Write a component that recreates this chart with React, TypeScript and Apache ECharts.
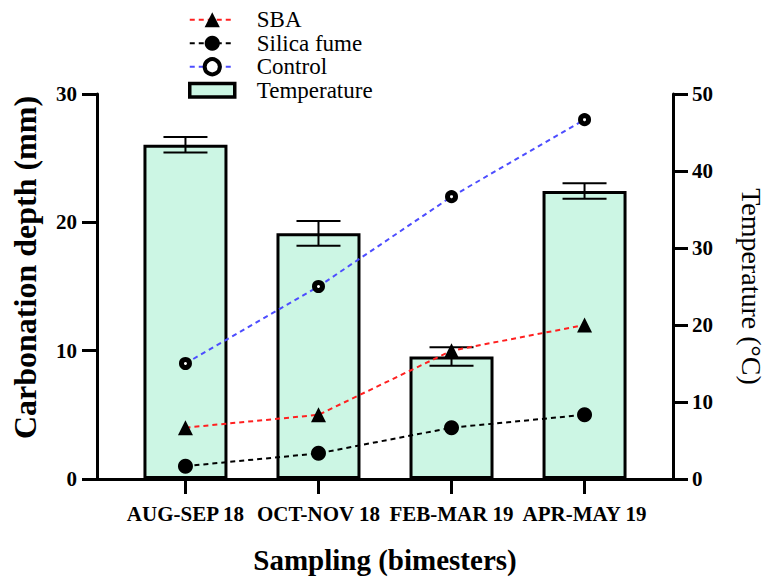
import React, { useEffect, useRef } from "react";
import * as echarts from "echarts";

const categories = ["AUG-SEP 18", "OCT-NOV 18", "FEB-MAR 19", "APR-MAY 19"];
const sba = [4, 5, 10, 12];
const silicaFume = [1, 2, 4, 5];
const control = [9, 15, 22, 28];
const temperature = [43.4, 31.9, 15.9, 37.4];
const temperatureErr = [1.0, 1.6, 1.2, 1.0];
const leftTicks = [0, 10, 20, 30];
const rightTicks = [0, 10, 20, 30, 40, 50];

const FONT = "Liberation Serif";

export default function App() {
  const ref = useRef<HTMLDivElement>(null);
  useEffect(() => {
    if (!ref.current) return;
    const chart = echarts.init(ref.current, undefined, { renderer: "svg" });
    const idx = categories.map((_, i) => i);
    const axisLine = { show: true, onZero: false, lineStyle: { color: "#000", width: 3 } };
    const axisTick = { show: true, length: 15, lineStyle: { color: "#000", width: 3 } };
    chart.setOption({
      animation: false,
      textStyle: { fontFamily: FONT },
      legend: {
        orient: "vertical",
        left: 183,
        top: 3,
        itemWidth: 45,
        itemHeight: 19,
        itemGap: 0,
        textStyle: { fontFamily: FONT, fontWeight: "normal", fontSize: 23, lineHeight: 23.5, color: "#000", padding: [0, 0, 0, 17] },
        data: [
          { name: "SBA" },
          { name: "Silica fume" },
          { name: "Control", itemStyle: { color: "#fff", borderColor: "#000", borderWidth: 4 } },
          {
            name: "Temperature",
            icon: "path://M0,0H40V12H0Z",
            itemStyle: { color: "#ccf6e4", borderColor: "#000", borderWidth: 3.5 },
          },
        ],
      },
      grid: { left: 97, right: 94, top: 94, bottom: 104, outerBoundsMode: "none" },
      xAxis: {
        type: "value",
        min: -0.665,
        max: 3.665,
        name: "Sampling (bimesters)",
        nameLocation: "middle",
        nameGap: 66,
        nameTextStyle: { fontFamily: FONT, fontSize: 29, fontWeight: "bold", color: "#000" },
        axisLine: { show: true, lineStyle: { color: "#000", width: 3 } },
        axisTick: { ...axisTick, customValues: idx },
        axisLabel: {
          customValues: idx,
          margin: 24,
          fontFamily: FONT,
          fontSize: 21,
          fontWeight: "bold",
          color: "#000",
          formatter: (v: number) => categories[Math.round(v)] ?? "",
        },
        splitLine: { show: false },
      },
      yAxis: [
        {
          type: "value",
          min: 0,
          max: 30,
          interval: 10,
          name: "Carbonation depth (mm)",
          nameLocation: "middle",
          nameGap: 56,
          nameTextStyle: { fontFamily: FONT, fontSize: 32, fontWeight: "bold", color: "#000", padding: [0, 0, 0, 38] },
          axisLine,
          axisTick,
          axisLabel: {
            margin: 20,
            fontFamily: FONT,
            fontSize: 21,
            fontWeight: "bold",
            color: "#000",
            customValues: leftTicks,
          },
          splitLine: { show: false },
        },
        {
          type: "value",
          min: 0,
          max: 50,
          interval: 10,
          position: "right",
          name: "Temperature (°C)",
          nameLocation: "middle",
          nameRotate: -90,
          nameGap: 64,
          nameTextStyle: { fontFamily: FONT, fontWeight: "normal", fontSize: 28, color: "#000" },
          axisLine,
          axisTick,
          axisLabel: {
            margin: 19,
            fontFamily: FONT,
            fontSize: 21,
            fontWeight: "bold",
            color: "#000",
            customValues: rightTicks,
          },
          splitLine: { show: false },
        },
      ],
      series: [
        {
          name: "Temperature",
          type: "bar",
          yAxisIndex: 1,
          barWidth: 84,
          data: temperature.map((v, i) => [i, v]),
          itemStyle: { color: "#ccf6e4", borderColor: "#000", borderWidth: 3 },
          z: 1,
        },
        {
          name: "TemperatureErr",
          type: "custom",
          yAxisIndex: 1,
          data: temperature.map((v, i) => [i, v - temperatureErr[i], v + temperatureErr[i]]),
          encode: { x: 0, y: [1, 2] },
          z: 2,
          renderItem: (_params: any, api: any) => {
            const x = api.value(0);
            const lo = api.coord([x, api.value(1)]);
            const hi = api.coord([x, api.value(2)]);
            const hw = 22;
            const st = { stroke: "#000", lineWidth: 2 };
            return {
              type: "group",
              children: [
                { type: "line", shape: { x1: hi[0], y1: hi[1], x2: lo[0], y2: lo[1] }, style: st },
                { type: "line", shape: { x1: hi[0] - hw, y1: hi[1], x2: hi[0] + hw, y2: hi[1] }, style: st },
                { type: "line", shape: { x1: lo[0] - hw, y1: lo[1], x2: lo[0] + hw, y2: lo[1] }, style: st },
              ],
            };
          },
        },
        {
          name: "SBA",
          type: "line",
          yAxisIndex: 0,
          data: sba.map((v, i) => [i, v]),
          symbol: "triangle",
          symbolSize: 15,
          itemStyle: { color: "#000" },
          lineStyle: { color: "#ff2020", width: 2, type: [5, 4] },
          z: 3,
        },
        {
          name: "Silica fume",
          type: "line",
          yAxisIndex: 0,
          data: silicaFume.map((v, i) => [i, v]),
          symbol: "circle",
          symbolSize: 15,
          itemStyle: { color: "#000" },
          lineStyle: { color: "#000", width: 2, type: [5, 4] },
          z: 3,
        },
        {
          name: "Control",
          type: "line",
          yAxisIndex: 0,
          data: control.map((v, i) => [i, v]),
          symbol: "circle",
          symbolSize: 8,
          itemStyle: { color: "#fff", borderColor: "#000", borderWidth: 5 },
          lineStyle: { color: "#4d4dff", width: 2, type: [5, 4] },
          z: 3,
        },
      ],
    });
    return () => chart.dispose();
  }, []);
  return <div ref={ref} style={{ position: "fixed", left: 0, top: 0, width: 767, height: 583, background: "#fff" }} />;
}
